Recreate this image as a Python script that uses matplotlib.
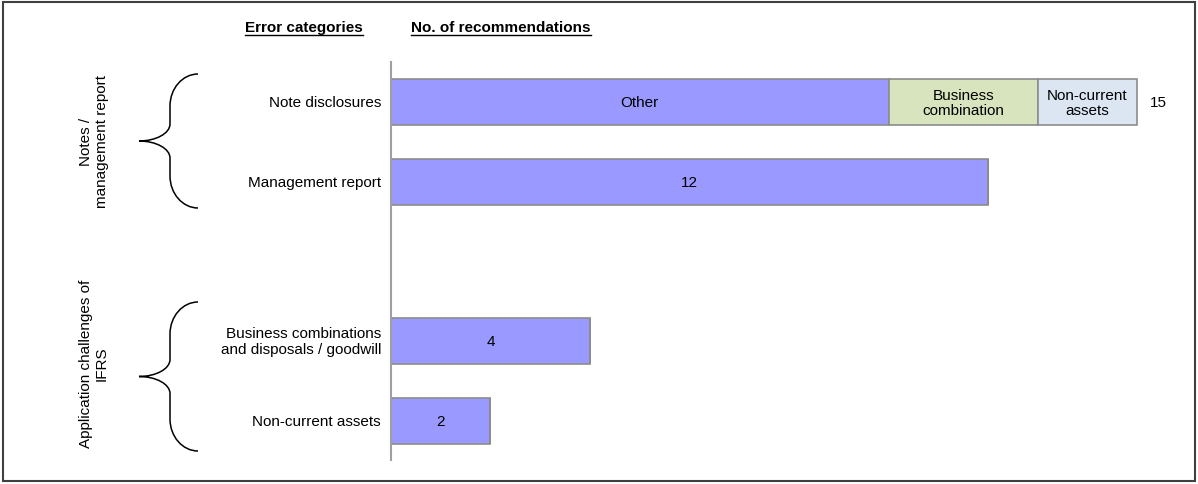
import numpy as np
import matplotlib.pyplot as plt
from matplotlib.path import Path
from matplotlib.patches import PathPatch, Rectangle

plt.rcParams['font.family'] = ['Liberation Sans', 'DejaVu Sans']

# data
categories = ['Note disclosures', 'Management report',
              'Business combinations\nand disposals / goodwill', 'Non-current assets']
ypos = [0, 1, 3, 4]
other = [10, 12, 4, 2]
business_comb = [3, 0, 0, 0]
noncurrent = [2, 0, 0, 0]
totals = [15, 12, 4, 2]
groups = ['Notes /\nmanagement report', 'Application challenges of\nIFRS']

W, H = 1198, 485
fig = plt.figure(figsize=(W / 100, H / 100), dpi=100)

def fx(px):
    return px / W

def fy(py):
    return 1 - py / H

ax_left, ax_top, ax_bottom = 391, 63, 461
unit = 49.75
xmax = (1198 - ax_left) / unit
ax = fig.add_axes([fx(ax_left), fy(ax_bottom), 1 - fx(ax_left), fy(ax_top) - fy(ax_bottom)])
ax.set_xlim(0, xmax)
ax.set_ylim(4 + (ax_bottom - 422) / 79.5, -(103 - ax_top) / 79.5)

h = 0.58
edge = '#8c8c8c'
ax.barh(ypos, other, height=h, color='#9999ff', edgecolor=edge, lw=1.2)
ax.barh(ypos, business_comb, left=other, height=h, color='#d7e4bd', edgecolor=edge, lw=1.2)
left2 = np.array(other) + np.array(business_comb)
ax.barh(ypos, noncurrent, left=left2, height=h, color='#dce6f2', edgecolor=edge, lw=1.2)

fs = 11
# labels inside bars
ax.text(other[0] / 2, ypos[0], 'Other', ha='center', va='center', fontsize=fs)
ax.text(other[0] + business_comb[0] / 2, ypos[0], 'Business\ncombination',
        ha='center', va='center', fontsize=fs, linespacing=1.1)
ax.text(left2[0] + noncurrent[0] / 2, ypos[0], 'Non-current\nassets',
        ha='center', va='center', fontsize=fs, linespacing=1.1)
ax.text(totals[0] + 0.25, ypos[0], str(totals[0]), ha='left', va='center', fontsize=fs)
for y, v in zip(ypos[1:], totals[1:]):
    ax.text(v / 2, y, str(v), ha='center', va='center', fontsize=fs)

for s in ['top', 'right', 'bottom']:
    ax.spines[s].set_visible(False)
ax.spines['left'].set_color('#a0a0a0')
ax.spines['left'].set_linewidth(1.5)
ax.set_xticks([])
ax.set_yticks([])

# category labels
for y, c in zip(ypos, categories):
    ax.text(-0.2, y, c, ha='right', va='center', fontsize=fs, linespacing=1.15)

# headers (bold, underlined)
hdrs = [('Error categories', 245), ('No. of recommendations', 411)]
fig.canvas.draw()
r = fig.canvas.get_renderer()
for txt, x0 in hdrs:
    t = fig.text(fx(x0), fy(28), txt, ha='left', va='center', fontsize=fs, fontweight='bold')
    bb = t.get_window_extent(renderer=r)
    fig.add_artist(plt.Line2D([bb.x0 / W, bb.x1 / W], [fy(36), fy(36)],
                              color='black', lw=1.0, transform=fig.transFigure))

# braces
def brace(top, bottom, x_tip=139, x_end=198):
    mid = (top + bottom) / 2
    xv = 170
    c1, c2 = 32, 17
    k = 0.55
    verts = [(x_end, top), (x_end - k * (x_end - xv), top), (xv, top + c1 - k * c1), (xv, top + c1),
             (xv, mid - c2), (xv, mid - c2 + k * c2), (x_tip + k * (xv - x_tip), mid), (x_tip, mid),
             (x_tip + k * (xv - x_tip), mid), (xv, mid + c2 - k * c2), (xv, mid + c2),
             (xv, bottom - c1), (xv, bottom - c1 + k * c1), (x_end - k * (x_end - xv), bottom), (x_end, bottom)]
    codes = [Path.MOVETO, Path.CURVE4, Path.CURVE4, Path.CURVE4,
             Path.LINETO, Path.CURVE4, Path.CURVE4, Path.CURVE4,
             Path.CURVE4, Path.CURVE4, Path.CURVE4,
             Path.LINETO, Path.CURVE4, Path.CURVE4, Path.CURVE4]
    verts = [(fx(a), fy(b)) for a, b in verts]
    fig.add_artist(PathPatch(Path(verts, codes), fill=False, lw=1.1,
                             edgecolor='black', transform=fig.transFigure))

brace(75, 209)
brace(303, 452)

fig.text(fx(94), fy(142), groups[0], rotation=90, ha='center', va='center',
         fontsize=fs, linespacing=1.1)
fig.text(fx(94), fy(364), groups[1], rotation=90, ha='center', va='center',
         fontsize=fs, linespacing=1.1)

# outer border
fig.add_artist(Rectangle((fx(2.5), fy(482)), fx(1195) - fx(2.5), fy(2.5) - fy(482),
                         fill=False, edgecolor='#404040', lw=1.5,
                         transform=fig.transFigure))

fig.savefig('out.png', dpi=100)
